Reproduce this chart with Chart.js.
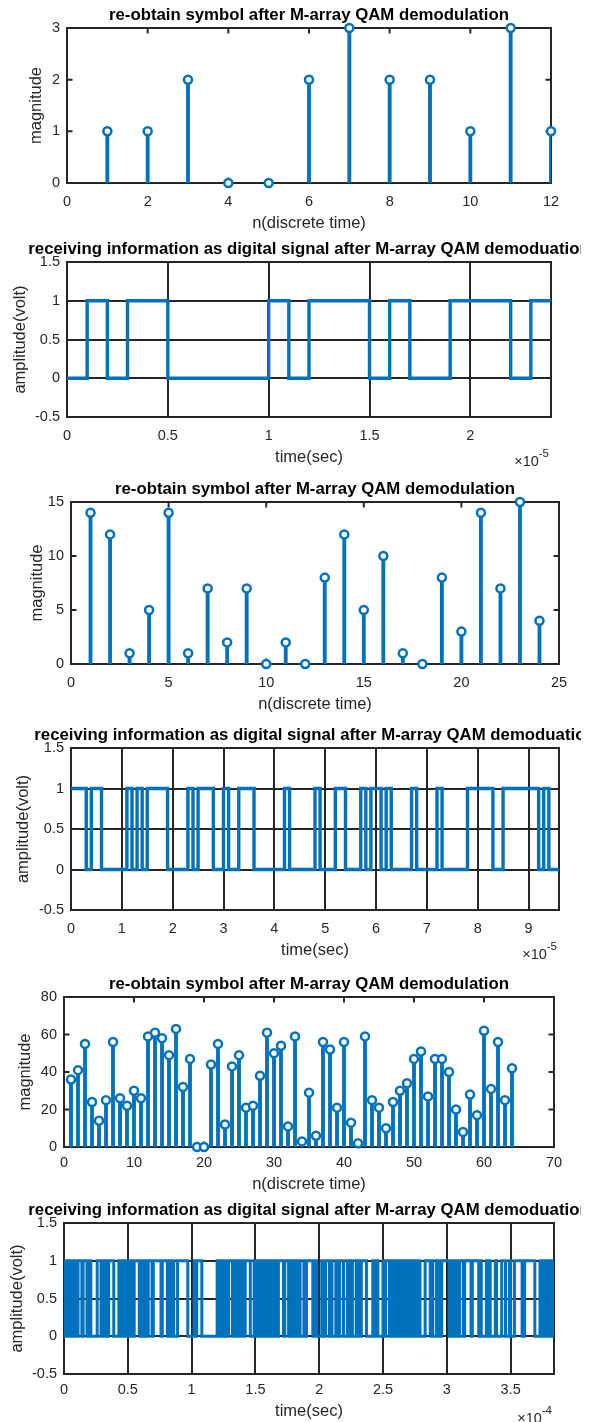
<!DOCTYPE html>
<html>
<head>
<meta charset="utf-8">
<script src="https://cdn.jsdelivr.net/npm/chart.js@4.4.1/dist/chart.umd.min.js"></script>
<style>
  html, body { margin: 0; padding: 0; background: #fff; }
  body { position: relative; width: 593px; height: 1422px; overflow: hidden; }
  canvas { position: absolute; left: 0; }
</style>
</head>
<body>
<script>
// ---- data ----
const p1Symbols = [1, 1, 2, 0, 0, 2, 3, 2, 2, 1, 3, 1];
const p2Bits = [
  0,1, 0,1, 1,0, 0,0, 0,0, 1,0,
  1,1, 1,0, 1,0, 0,1, 1,1, 0,1
];
const p3Symbols = [14, 12, 1, 5, 14, 1, 7, 2, 7, 0, 2, 0, 8, 12, 5, 10, 1, 0, 8, 3, 14, 7, 15, 4];
const p4Bits = [
  1,1,1,0, 1,1,0,0, 0,0,0,1, 0,1,0,1, 1,1,1,0, 0,0,0,1,
  0,1,1,1, 0,0,1,0, 0,1,1,1, 0,0,0,0, 0,0,1,0, 0,0,0,0,
  1,0,0,0, 1,1,0,0, 0,1,0,1, 1,0,1,0, 0,0,0,1, 0,0,0,0,
  1,0,0,0, 0,0,1,1, 1,1,1,0, 0,1,1,1, 1,1,1,1, 0,1,0,0
];
const p5Symbols = [
  36, 41, 55, 24, 14, 25, 56, 26, 22, 30, 26, 59, 61, 58, 49, 63,
  32, 47, 0, 0, 44, 55, 12, 43, 49, 21, 22, 38, 61, 50, 54, 11,
  59, 3, 29, 6, 56, 52, 21, 56, 13, 2, 59, 25, 21, 10, 24, 30,
  34, 47, 51, 27, 47, 47, 40, 20, 8, 28, 17, 62, 31, 56, 25, 42
];
const p6Bits = [
  1,0,0,1,0,0, 1,0,1,0,0,1, 1,1,0,1,1,1, 0,1,1,0,0,0,
  0,0,1,1,1,0, 0,1,1,0,0,1, 1,1,1,0,0,0, 0,1,1,0,1,0,
  0,1,0,1,1,0, 0,1,1,1,1,0, 0,1,1,0,1,0, 1,1,1,0,1,1,
  1,1,1,1,0,1, 1,1,1,0,1,0, 1,1,0,0,0,1, 1,1,1,1,1,1,
  1,0,0,0,0,0, 1,0,1,1,1,1, 0,0,0,0,0,0, 0,0,0,0,0,0,
  1,0,1,1,0,0, 1,1,0,1,1,1, 0,0,1,1,0,0, 1,0,1,0,1,1,
  1,1,0,0,0,1, 0,1,0,1,0,1, 0,1,0,1,1,0, 1,0,0,1,1,0,
  1,1,1,1,0,1, 1,1,0,0,1,0, 1,1,0,1,1,0, 0,0,1,0,1,1,
  1,1,1,0,1,1, 0,0,0,0,1,1, 0,1,1,1,0,1, 0,0,0,1,1,0,
  1,1,1,0,0,0, 1,1,0,1,0,0, 0,1,0,1,0,1, 1,1,1,0,0,0,
  0,0,1,1,0,1, 0,0,0,0,1,0, 1,1,1,0,1,1, 0,1,1,0,0,1,
  0,1,0,1,0,1, 0,0,1,0,1,0, 0,1,1,0,0,0, 0,1,1,1,1,0,
  1,0,0,0,1,0, 1,0,1,1,1,1, 1,1,0,0,1,1, 0,1,1,0,1,1,
  1,0,1,1,1,1, 1,0,1,1,1,1, 1,0,1,0,0,0, 0,1,0,1,0,0,
  0,0,1,0,0,0, 0,1,1,1,0,0, 0,1,0,0,0,1, 1,1,1,1,1,0,
  0,1,1,1,1,1, 1,1,1,0,0,0, 0,1,1,0,0,1, 1,0,1,0,1,0
];

const bitTime = 1e-6; // seconds per bit

// tick labels
const p1XTicks = [0, 2, 4, 6, 8, 10, 12];
const p1YTicks = [0, 1, 2, 3];
const p2XTicks = [0, 0.5, 1, 1.5, 2];          // x 1e-5 s
const p3XTicks = [0, 5, 10, 15, 20, 25];
const p3YTicks = [0, 5, 10, 15];
const p4XTicks = [0, 1, 2, 3, 4, 5, 6, 7, 8, 9]; // x 1e-5 s
const p5XTicks = [0, 10, 20, 30, 40, 50, 60, 70];
const p5YTicks = [0, 20, 40, 60, 80];
const p6XTicks = [0, 0.5, 1, 1.5, 2, 2.5, 3, 3.5]; // x 1e-4 s
const voltTicks = [-0.5, 0, 0.5, 1, 1.5];

const stemTitle = 're-obtain symbol after M-array QAM demodulation';
const signalTitle = 'receiving information as digital signal after M-array QAM demoduation';

// ---- style ----
const BLUE = '#0072BD';
const AXIS = '#262626';
const FONT = "'Liberation Sans', Arial, Helvetica, sans-serif";
const TICK_SIZE = 14.5;
const LABEL_SIZE = 16.5;
const TITLE_SIZE = 16.8;
const TOP_PAD = 32;
const X_AXIS_H = 60;
const TITLE_CLIP_X = 581;

Chart.defaults.font.family = FONT;
Chart.defaults.color = AXIS;

const fmt = v => String(Math.round(v * 100) / 100);

// matlab-like box, inward ticks, bold title and x10^n label
const matlabAxes = {
  id: 'matlabAxes',
  beforeDatasetsDraw(chart, args, opts) {
    const {ctx, chartArea: a, scales: {x, y}} = chart;
    ctx.save();
    ctx.strokeStyle = AXIS;
    ctx.lineWidth = 2;
    if (opts.ticksIn) {
      const len = 5.5;
      ctx.beginPath();
      x.ticks.forEach(t => {
        const px = x.getPixelForValue(t.value);
        ctx.moveTo(px, a.bottom); ctx.lineTo(px, a.bottom - len);
        ctx.moveTo(px, a.top); ctx.lineTo(px, a.top + len);
      });
      y.ticks.forEach(t => {
        const py = y.getPixelForValue(t.value);
        ctx.moveTo(a.left, py); ctx.lineTo(a.left + len, py);
        ctx.moveTo(a.right, py); ctx.lineTo(a.right - len, py);
      });
      ctx.stroke();
    }
    ctx.strokeRect(a.left, a.top, a.right - a.left, a.bottom - a.top);
    ctx.restore();
  },
  afterDraw(chart, args, opts) {
    const {ctx, chartArea: a} = chart;
    ctx.save();
    ctx.beginPath();
    ctx.rect(0, 0, TITLE_CLIP_X, chart.height);
    ctx.clip();
    ctx.fillStyle = '#000';
    ctx.font = `bold ${TITLE_SIZE}px ${FONT}`;
    ctx.textAlign = 'center';
    ctx.textBaseline = 'alphabetic';
    ctx.fillText(opts.title, (a.left + a.right) / 2, a.top - 8.5);
    ctx.restore();

    if (opts.expText) {
      ctx.save();
      ctx.fillStyle = AXIS;
      ctx.textBaseline = 'middle';
      ctx.textAlign = 'left';
      ctx.font = `11.5px ${FONT}`;
      const wSup = ctx.measureText(opts.expText).width;
      ctx.font = `${TICK_SIZE}px ${FONT}`;
      const wBase = ctx.measureText('\u00d710').width;
      const right = a.right - 2;
      ctx.fillText('\u00d710', right - wSup - wBase, a.bottom + 45);
      ctx.font = `11.5px ${FONT}`;
      ctx.fillText(opts.expText, right - wSup, a.bottom + 37);
      ctx.restore();
    }
  }
};

function stepPoints(bits, dt) {
  const pts = bits.map((b, i) => ({x: i * dt, y: b}));
  pts.push({x: bits.length * dt, y: bits[bits.length - 1]});
  return pts;
}

const panels = [
  {kind: 'stem', values: p1Symbols, xMax: 12, yMin: 0, yMax: 3, xTicks: p1XTicks, yTicks: p1YTicks,
   xLabel: 'n(discrete time)', yLabel: 'magnitude', box: [67, 551, 28, 183], yLabelX: 38, xLabelOff: 42, tickPad: 10},
  {kind: 'signal', bits: p2Bits, exp: 1e-5, expText: '-5', yMin: -0.5, yMax: 1.5, xTicks: p2XTicks, yTicks: voltTicks,
   xLabel: 'time(sec)', yLabel: 'amplitude(volt)', box: [67, 551, 262, 417], yLabelX: 22, xLabelOff: 42, tickPad: 10, lw: 3.4},
  {kind: 'stem', values: p3Symbols, xMax: 25, yMin: 0, yMax: 15, xTicks: p3XTicks, yTicks: p3YTicks,
   xLabel: 'n(discrete time)', yLabel: 'magnitude', box: [71, 559, 502, 664], yLabelX: 39, xLabelOff: 42, tickPad: 10},
  {kind: 'signal', bits: p4Bits, exp: 1e-5, expText: '-5', yMin: -0.5, yMax: 1.5, xTicks: p4XTicks, yTicks: voltTicks,
   xLabel: 'time(sec)', yLabel: 'amplitude(volt)', box: [71, 559, 748, 910], yLabelX: 25, xLabelOff: 42, tickPad: 10, lw: 3.4},
  {kind: 'stem', values: p5Symbols, xMax: 70, yMin: 0, yMax: 80, xTicks: p5XTicks, yTicks: p5YTicks,
   xLabel: 'n(discrete time)', yLabel: 'magnitude', box: [64, 554, 997, 1147], yLabelX: 27, xLabelOff: 39, tickPad: 7},
  {kind: 'signal', bits: p6Bits, exp: 1e-4, expText: '-4', yMin: -0.5, yMax: 1.5, xTicks: p6XTicks, yTicks: voltTicks,
   xLabel: 'time(sec)', yLabel: 'amplitude(volt)', box: [64, 554, 1223, 1374], yLabelX: 19, xLabelOff: 39, tickPad: 7, lw: 3}
];

panels.forEach(p => {
  const [L, R, T, B] = p.box;
  const canvas = document.createElement('canvas');
  canvas.width = 593;
  canvas.height = (B - T) + TOP_PAD + X_AXIS_H;
  canvas.style.top = (T - TOP_PAD) + 'px';
  document.body.appendChild(canvas);

  const isSignal = p.kind === 'signal';
  const xScale = isSignal ? p.exp : 1;
  const labelLH = LABEL_SIZE * 1.2;

  let datasets;
  if (isSignal) {
    datasets = [{
      type: 'line',
      data: stepPoints(p.bits, bitTime),
      stepped: true,
      borderColor: BLUE,
      borderWidth: p.lw,
      pointRadius: 0,
      fill: false
    }];
  } else {
    const pts = p.values.map((v, i) => ({x: i + 1, y: v}));
    datasets = [
      {type: 'scatter', data: pts, order: 0, clip: false,
       pointRadius: 4, pointBorderWidth: 2.5, pointBorderColor: BLUE, pointBackgroundColor: '#fff'},
      {type: 'bar', data: pts, order: 1, backgroundColor: BLUE, barThickness: 3.2}
    ];
  }

  const gridOpts = isSignal
    ? {display: true, color: AXIS, lineWidth: 2, drawTicks: false}
    : {display: false, drawTicks: false};

  new Chart(canvas, {
    type: isSignal ? 'line' : 'scatter',
    data: {datasets},
    plugins: [matlabAxes],
    options: {
      responsive: false,
      animation: false,
      events: [],
      layout: {autoPadding: false, padding: {top: TOP_PAD, left: 0, right: 593 - R, bottom: 0}},
      plugins: {
        legend: {display: false},
        tooltip: {enabled: false},
        title: {display: false},
        matlabAxes: {title: isSignal ? signalTitle : stemTitle, ticksIn: !isSignal, expText: p.expText}
      },
      scales: {
        x: {
          type: 'linear',
          min: 0,
          max: isSignal ? p.bits.length * bitTime : p.xMax,
          offset: false,
          grid: Object.assign({offset: false}, gridOpts),
          border: {display: false},
          afterBuildTicks: s => { s.ticks = p.xTicks.map(v => ({value: v * xScale})); },
          afterFit: s => { s.height = X_AXIS_H; },
          ticks: {
            autoSkip: false, maxRotation: 0, padding: p.tickPad, color: AXIS,
            font: {size: TICK_SIZE},
            callback: v => fmt(v / xScale)
          },
          title: {
            display: true, text: p.xLabel, color: AXIS, font: {size: LABEL_SIZE},
            padding: {top: 0, bottom: X_AXIS_H + 1.5 - p.xLabelOff - labelLH / 2}
          }
        },
        y: {
          type: 'linear',
          min: p.yMin,
          max: p.yMax,
          grid: gridOpts,
          border: {display: false},
          afterBuildTicks: s => { s.ticks = p.yTicks.map(v => ({value: v})); },
          afterFit: s => { s.width = L; },
          ticks: {
            autoSkip: false, padding: 7, color: AXIS,
            font: {size: TICK_SIZE},
            callback: v => fmt(v)
          },
          title: {
            display: true, text: p.yLabel, color: AXIS, font: {size: LABEL_SIZE},
            padding: {top: p.yLabelX - 1.5 - labelLH / 2, bottom: 0}
          }
        }
      }
    }
  });
});
</script>
</body>
</html>
